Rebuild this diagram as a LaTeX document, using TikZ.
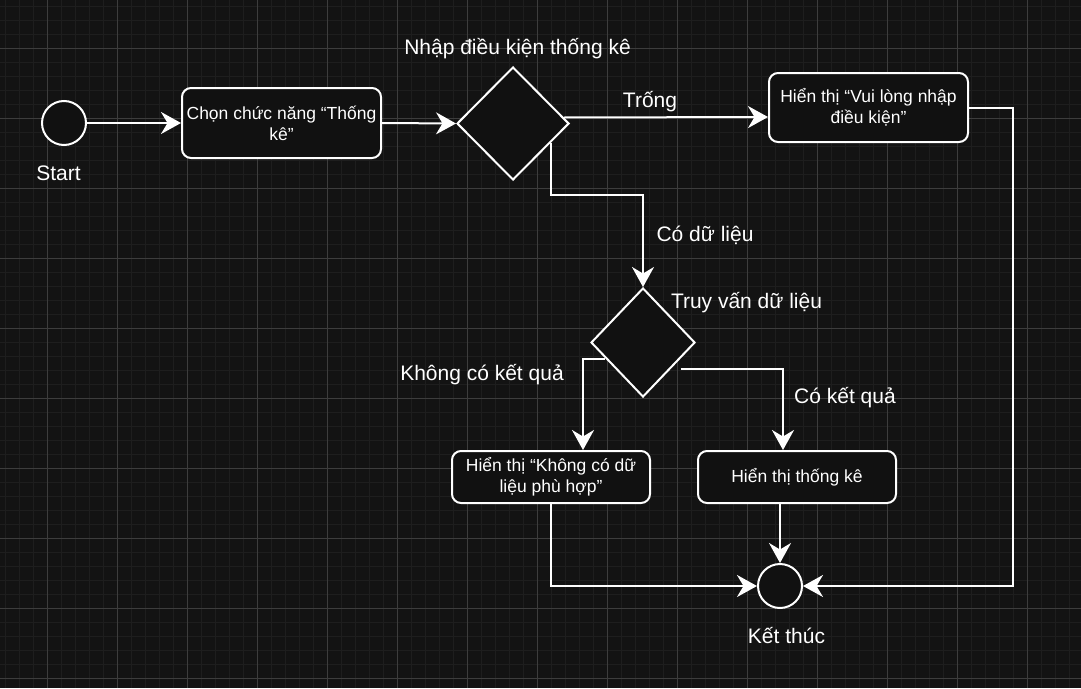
\documentclass[tikz,border=0pt]{standalone}
\usepackage{fontspec}
\setmainfont{Liberation Sans}
\usetikzlibrary{shapes.geometric,arrows.meta,calc}
\definecolor{bgc}{HTML}{131313}
\definecolor{minorc}{HTML}{1E1E1E}
\definecolor{majorc}{HTML}{3D3D3D}
\definecolor{boxfill}{HTML}{111111}
\tikzset{
  lbl/.style={text=white,font=\fontsize{21}{25}\selectfont,inner sep=0pt},
  actbox/.style={draw=white,line width=2pt,fill=boxfill,rounded corners=9pt,text=white,font=\fontsize{17.5}{21}\selectfont,align=center,inner sep=0pt},
  dec/.style={diamond,draw=white,line width=2pt,fill=boxfill,inner sep=0pt},
  term/.style={circle,draw=white,line width=2pt,fill=boxfill,inner sep=0pt,minimum size=44pt},
  conn/.style={draw=white,line width=2pt,-{Stealth[length=20pt,width=22pt,inset=6.5pt]}},
  minorgrid/.style={draw=minorc,line width=1pt},
  majorgrid/.style={draw=majorc,line width=1pt},
}
\begin{document}
\begin{tikzpicture}[x=1pt,y=-1pt]
\useasboundingbox (0,0) rectangle (1081,688);
\fill[bgc] (0,0) rectangle (1081,688);
\foreach \x in {5,19,...,1081} \draw[minorgrid] (\x,0) -- (\x,688);
\foreach \y in {6,20,...,688} \draw[minorgrid] (0,\y) -- (1081,\y);
\foreach \x in {47,117,...,1081} \draw[majorgrid] (\x,0) -- (\x,688);
\foreach \y in {48,118,...,688} \draw[majorgrid] (0,\y) -- (1081,\y);

% nodes
\node[term] (start) at (64,123) {};
\node[actbox,minimum width=199pt,minimum height=70pt] (box1) at (281.5,123) {Chọn chức năng “Thống\\kê”};
\node[dec,minimum width=112pt,minimum height=113pt] (d1) at (513,123.5) {};
\node[actbox,minimum width=199pt,minimum height=69pt] (box2) at (868.5,107.5) {Hiển thị “Vui lòng nhập\\điều kiện”};
\node[dec,minimum width=104pt,minimum height=109pt] (d2) at (643,342.5) {};
\node[actbox,minimum width=198pt,minimum height=52pt] (box3) at (551,477) {Hiển thị “Không có dữ\\liệu phù hợp”};
\node[actbox,minimum width=198pt,minimum height=52pt] (box4) at (797,477) {Hiển thị thống kê};
\node[term] (endc) at (780,586) {};

% labels
\node[lbl,anchor=base] (lstart) at (58.5,180) {Start};
\node[lbl,anchor=base] (lnhap) at (517.5,54) {Nhập điều kiện thống kê};
\node[lbl,anchor=base] (ltrong) at (650,107) {Trống};
\node[lbl,anchor=base] (lco) at (705,241) {Có dữ liệu};
\node[lbl,anchor=base] (ltruy) at (746.5,308) {Truy vấn dữ liệu};
\node[lbl,anchor=base] (lkhong) at (482,380) {Không có kết quả};
\node[lbl,anchor=base] (lcokq) at (845,403) {Có kết quả};
\node[lbl,anchor=base] (lend) at (786.5,643) {Kết thúc};

% connectors
\draw[conn] (start.east) -- (box1.west);
\draw[conn] (box1.east) -- (d1.west);
\draw[conn] ($(d1.east)+(-6,-6)$) -- ($(box2.west)+(0,9.5)$);
\draw[conn] (box2.east) -- ++(44,0) |- (endc.east);
\draw[conn] ($(d1.east)!0.333!(d1.south)$) -- ++(0,52) -| (d2.north);
\draw[conn] ($(d2.west)!0.29!(d2.south)$) -| ($(box3.north)+(32,0)$);
\draw[conn] ($(d2.east)!0.48!(d2.south)+(10,0)$) -| ($(box4.north)+(-14,0)$);
\draw[conn] (box4.south -| endc.north) -- (endc.north);
\draw[conn] (box3.south) |- (endc.west);
\end{tikzpicture}
\end{document}
